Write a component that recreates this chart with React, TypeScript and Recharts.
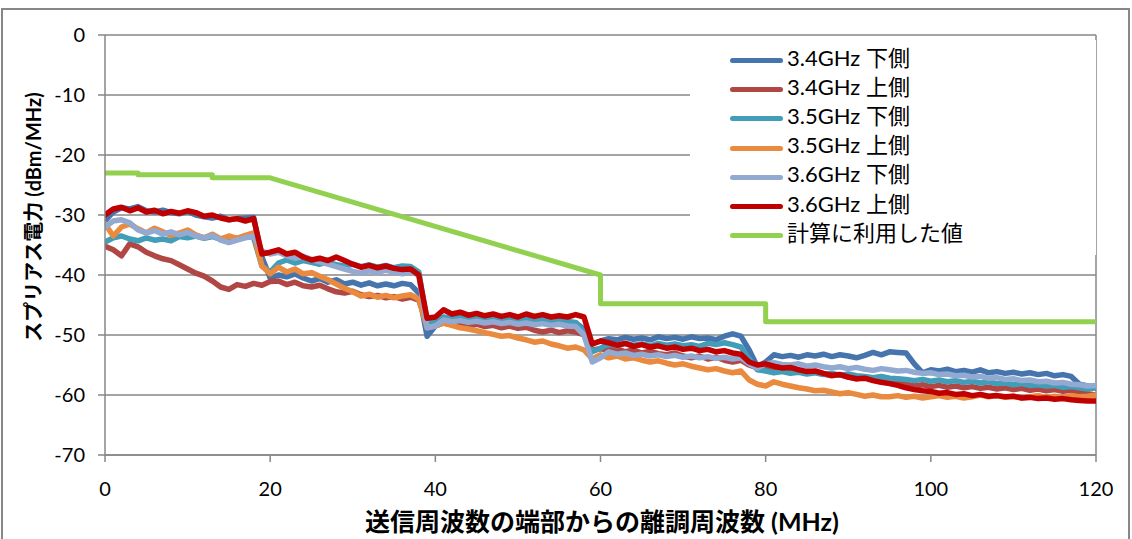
import { LineChart, Line, XAxis, YAxis, CartesianGrid, Legend, ReferenceLine } from "recharts"

const freq = [
  0, 1, 2, 3, 4, 5, 6, 7, 8, 9, 10, 11, 12, 13, 14, 15, 16, 17, 18, 19,
  20, 21, 22, 23, 24, 25, 26, 27, 28, 29, 30, 31, 32, 33, 34, 35, 36, 37, 38, 39,
  40, 41, 42, 43, 44, 45, 46, 47, 48, 49, 50, 51, 52, 53, 54, 55, 56, 57, 58, 59,
  60, 61, 62, 63, 64, 65, 66, 67, 68, 69, 70, 71, 72, 73, 74, 75, 76, 77, 78, 79,
  80, 81, 82, 83, 84, 85, 86, 87, 88, 89, 90, 91, 92, 93, 94, 95, 96, 97, 98, 99,
  100, 101, 102, 103, 104, 105, 106, 107, 108, 109, 110, 111, 112, 113, 114, 115, 116, 117, 118, 119,
  120,
]

// 3.4GHz 下側
const lower34 = [
  -31, -29.5, -28.8, -29, -28.6, -29.3, -29.5, -29.2, -29.6, -29.8, -29.4, -30, -30.3, -30.5, -30.2, -30.8, -30.6, -30.5, -30.4, -37,
  -40.5, -40, -40.3, -39.8, -40.5, -41, -40.6, -41.2, -40.8, -41.5, -41.2, -41.7, -41.3, -41.8, -41.5, -41.8, -41.4, -41.6, -43, -50.2,
  -48.5, -47.3, -47.5, -47, -47.4, -47.1, -47.5, -47.2, -47, -47.4, -47.1, -47.5, -47.3, -47.6, -47.3, -47.6, -47.8, -48, -49, -51.5,
  -51, -50.6, -50.8, -50.4, -50.7, -50.5, -50.8, -50.3, -50.6, -50.4, -50.7, -50.3, -50.6, -50.5, -50.8, -50.2, -49.8, -50.2, -52.5, -55.3,
  -54.5, -53.3, -53.6, -53.4, -53.7, -53.3, -53.5, -53.2, -53.6, -53.3, -53.5, -53.8, -53.4, -52.9, -53.3, -52.8, -52.9, -53, -54.8, -56.3,
  -55.8, -56, -55.7, -56.1, -55.9, -56.2, -55.8, -56.3, -56.1, -56.4, -56.2, -56.5, -56.3, -56.6, -56.4, -56.8, -56.6, -56.9, -58.2, -58.5,
  -58.8,
]

// 3.4GHz 上側
const upper34 = [
  -35.2, -35.8, -36.8, -34.8, -35.3, -36.2, -36.8, -37.3, -37.6, -38.3, -39, -39.7, -40.2, -41, -42, -42.4, -41.6, -41.9, -41.4, -41.7,
  -41.1, -41, -41.6, -41.2, -41.8, -42, -41.7, -42.3, -42.8, -43, -42.7, -43.3, -43.6, -43.4, -43.8, -43.6, -44, -43.7, -44.2, -48,
  -48.5, -48, -48.3, -48.1, -48.5, -48.2, -48.6, -48.4, -48.8, -48.5, -48.9, -48.7, -49.2, -49.5, -49.2, -49.6, -49.3, -49.5, -50, -52.5,
  -52.3, -52.5, -52.3, -52.8, -52.5, -53, -52.7, -53.1, -53.3, -53, -53.5, -53.8, -53.5, -54, -53.7, -54.2, -54.5, -54.2, -55, -55.5,
  -55.2, -55.5, -55.8, -55.6, -56, -56.3, -56.1, -56.5, -56.8, -56.6, -57, -57.3, -57.1, -57.5, -57.8, -57.6, -58, -58.2, -58.5, -58.3,
  -58.6, -58.4, -58.7, -58.5, -58.8, -58.6, -58.9, -58.7, -59, -58.8, -59.1, -58.9, -59.2, -59, -59.3, -59.1, -59.4, -59.2, -59.5, -59.8,
  -60,
]

// 3.5GHz 下側
const lower35 = [
  -34.5, -33.8, -33.5, -34, -34.3, -33.8, -34.2, -34, -34.3, -33.6, -33.8, -33.5, -33.9, -33.6, -34, -33.7, -33.9, -33.5, -33.8, -38.5,
  -39.5, -38, -37.5, -38, -37.6, -37.9, -38.2, -37.8, -38.3, -38.5, -38.2, -38.6, -38.3, -38.7, -38.4, -38.8, -38.5, -38.6, -39.5, -48,
  -47.8, -47, -47.3, -47.1, -47.4, -47.2, -47.5, -47.2, -47.4, -47.1, -47.5, -47.3, -47.6, -47.4, -47.7, -47.5, -47.8, -47.9, -49.5, -52.8,
  -52.2, -51.5, -51.8, -51.4, -51.7, -51.5, -51.8, -51.4, -51.7, -51.5, -51.8, -51.6, -51.9, -51.4, -51.6, -51.3, -51.6, -52, -54, -55.8,
  -56, -56.3, -56.1, -56.4, -56.2, -56.5, -56.3, -56.6, -56.4, -56.7, -56.5, -56.8, -56.9, -57.1, -56.9, -57.2, -57.3, -57.4, -57.6, -57.4,
  -57.7, -57.5, -57.8, -57.6, -57.9, -57.7, -58, -57.8, -58.1, -58, -58.3, -58.1, -58.4, -58.3, -58.5, -58.4, -58.7, -58.6, -58.8, -59,
  -58.8,
]

// 3.5GHz 上側
const upper35 = [
  -31.5, -33.5, -32, -31.5, -32.3, -33, -32.2, -32.8, -33.4, -33, -32.5, -33.3, -33.8, -33.2, -34, -33.5, -33.9, -33.4, -33, -38.5,
  -39.8, -38.7, -39.5, -39, -39.8, -39.6, -40.2, -40.8, -41.5, -42.2, -42.8, -43.5, -43.2, -43.7, -43.4, -43.8, -43.5, -43.3, -44, -48.8,
  -48.5, -48, -48.4, -48.8, -49, -49.3, -49.6, -49.9, -50.2, -50.1, -50.5, -50.8, -51.2, -51, -51.5, -51.8, -52.2, -52, -52.5, -54,
  -53.3, -53.8, -53.5, -54, -53.8, -54.2, -54.5, -54.3, -54.7, -55, -54.8, -55.2, -55.5, -55.8, -55.6, -56, -56.3, -56, -57.5, -58.2,
  -58.5, -57.8, -58.2, -58.5, -58.8, -59, -59.3, -59.2, -59.5, -59.8, -59.6, -59.9, -60.2, -60, -60.3, -60.3, -60.1, -60.4, -60.2, -60.5,
  -60.3, -60.1, -60.4, -60.2, -60.5, -60.3, -60, -60.3, -60.1, -60.4, -60.2, -60.5, -60.3, -60.1, -60.4, -60.2, -60.4, -60.1, -60.3, -60.2,
  -60,
]

// 3.6GHz 下側
const lower36 = [
  -32, -31, -30.8, -31.3, -32.5, -33, -32.6, -33.2, -32.8, -33.3, -32.9, -33.5, -33.8, -33.4, -34.2, -34.6, -34.2, -33.8, -33.5, -36,
  -36.5, -36.2, -36.8, -37.2, -36.9, -37.4, -37.8, -38.2, -38.6, -39, -39.4, -39.7, -39.3, -39.6, -39.2, -39.5, -39.8, -39.5, -40, -48.8,
  -48.5, -47.5, -47.8, -47.6, -47.9, -47.7, -48, -47.8, -48.1, -47.9, -48.2, -48, -48.3, -48.1, -48.4, -48.2, -48.5, -48.6, -50, -54.5,
  -53.8, -52.8, -53.2, -53, -53.4, -53.2, -53.5, -53.3, -53.6, -53.4, -53.7, -53.5, -53.8, -53.6, -53.9, -53.7, -54, -53.8, -54.8, -55.5,
  -54.8, -54.6, -54.9, -55, -54.8, -55.2, -55, -55.3, -55.5, -55.3, -55.6, -55.4, -55.7, -55.9, -55.6, -55.8, -56, -55.9, -56.2, -56.4,
  -56.3, -56.6, -56.5, -56.8, -56.7, -57, -56.9, -57.2, -57.1, -57.4, -57.3, -57.6, -57.5, -57.8, -57.7, -58, -57.9, -58.2, -58.3, -58.5,
  -58.4,
]

// 3.6GHz 上側
const upper36 = [
  -30, -29, -28.7, -29.3, -28.8, -29.5, -29.2, -29.8, -29.4, -29.7, -29.3, -29.6, -30.2, -30, -30.5, -30.8, -30.6, -31, -30.6, -36.5,
  -36.2, -35.8, -36.5, -36.2, -37, -37.5, -37.2, -37.6, -37, -37.6, -38.2, -38.7, -38.4, -38.8, -38.5, -38.9, -39.1, -39, -40, -47.2,
  -47, -45.8, -46.5, -46.2, -46.7, -46.4, -46.8, -46.5, -46.9, -46.6, -47, -46.5, -46.9, -46.6, -47, -46.8, -47, -46.6, -47, -51.5,
  -51, -51.3, -51.7, -51.4, -51.9, -51.6, -52, -51.8, -52.2, -52, -52.4, -52.2, -52.6, -52.4, -52.8, -52.6, -53, -53.2, -54.5, -55,
  -54.8, -55.2, -55.5, -55.4, -55.8, -56.1, -56, -56.4, -56.7, -56.6, -57, -57.3, -57.2, -57.6, -57.9, -58.1, -58.4, -58.8, -59.1, -59.3,
  -59.4, -59.7, -59.6, -59.9, -59.8, -60.1, -59.9, -60.2, -60.1, -60.3, -60.2, -60.5, -60.4, -60.6, -60.5, -60.7, -60.6, -60.8, -60.9, -61,
  -61,
]

// 計算に利用した値
const calcFreq = [0, 4, 4, 13, 13, 20, 60, 60, 80, 80, 120]
const calcValue = [-23, -23, -23.3, -23.3, -23.8, -23.8, -40, -44.8, -44.8, -47.8, -47.8]

const seriesNames = [
  "3.4GHz 下側",
  "3.4GHz 上側",
  "3.5GHz 下側",
  "3.5GHz 上側",
  "3.6GHz 下側",
  "3.6GHz 上側",
  "計算に利用した値",
]
const colors = ["#4674AD", "#B04744", "#419DB8", "#EA8A3E", "#92AAD2", "#C00000", "#92D050"]

const xTicks = [0, 20, 40, 60, 80, 100, 120]
const yTicks = [-70, -60, -50, -40, -30, -20, -10, 0]

const FONT = "Lato, 'Noto Sans CJK JP', sans-serif"
const GRAY = "#878787"

const toPoints = (xs: number[], ys: number[]) => ys.map((y, i) => ({ x: xs[i], y }))

const measured = [lower34, upper34, lower35, upper35, lower36, upper36]

function LegendBox() {
  return (
    <div style={{ width: 406, height: 215, background: "#fff", paddingTop: 3, boxSizing: "border-box", fontFamily: FONT }}>
      {seriesNames.map((name, i) => (
        <div key={name} style={{ height: 29.2, display: "flex", alignItems: "center" }}>
          <div style={{ marginLeft: 40, marginTop: 6, width: 53, height: 5, borderRadius: 3, background: colors[i] }} />
          <span style={{ marginLeft: 4, fontSize: 22, lineHeight: 1, color: "#000", whiteSpace: "nowrap" }}>{name}</span>
        </div>
      ))}
    </div>
  )
}

export default function App() {
  return (
    <div style={{ position: "absolute", left: 0, top: 0, width: 1132, height: 539, background: "#fff", overflow: "hidden", fontFamily: FONT }}>
      <div
        style={{
          position: "absolute",
          left: 1,
          top: 8,
          width: 1129,
          height: 600,
          border: `2px solid ${GRAY}`,
          boxSizing: "border-box",
        }}
      />
      <LineChart width={1132} height={539} margin={{ top: 35, right: 36, bottom: 0, left: 0 }}>
        <CartesianGrid vertical={false} stroke={GRAY} strokeWidth={1.5} />
        <XAxis
          type="number"
          dataKey="x"
          domain={[0, 120]}
          ticks={xTicks}
          allowDataOverflow
          height={84}
          stroke={GRAY}
          strokeWidth={1.5}
          tickSize={7}
          tickMargin={20}
          tick={{ fill: "#000", fontSize: 20, fontFamily: FONT }}
          label={() => (
            <text x={602} y={521} textAnchor="middle" dominantBaseline="central" fontSize={25} fontWeight="bold" fontFamily={FONT} fill="#000">
              送信周波数の端部からの離調周波数 (MHz)
            </text>
          )}
        />
        <YAxis
          type="number"
          domain={[-70, 0]}
          ticks={yTicks}
          allowDataOverflow
          width={105}
          stroke={GRAY}
          strokeWidth={1.5}
          tickSize={7}
          tickMargin={13}
          tick={{ fill: "#000", fontSize: 20, fontFamily: FONT }}
          label={() => (
            <text
              x={33}
              y={217}
              transform="rotate(-90 33 217)"
              textAnchor="middle"
              dominantBaseline="central"
              fontSize={20}
              fontWeight="bold"
              fontFamily={FONT}
              fill="#000"
            >
              スプリアス電力 (dBm/MHz)
            </text>
          )}
        />
        <ReferenceLine x={120} stroke={GRAY} strokeWidth={1.5} />
        {measured.map((ys, i) => (
          <Line
            key={seriesNames[i]}
            name={seriesNames[i]}
            data={toPoints(freq, ys)}
            dataKey="y"
            type="linear"
            stroke={colors[i]}
            strokeWidth={5.5}
            strokeLinejoin="round"
            strokeLinecap="round"
            dot={false}
            activeDot={false}
            isAnimationActive={false}
          />
        ))}
        <Line
          name={seriesNames[6]}
          data={toPoints(calcFreq, calcValue)}
          dataKey="y"
          type="linear"
          stroke={colors[6]}
          strokeWidth={5}
          strokeLinejoin="round"
          strokeLinecap="round"
          dot={false}
          activeDot={false}
          isAnimationActive={false}
        />
        <Legend
          layout="vertical"
          align="center"
          verticalAlign="middle"
          content={() => <LegendBox />}
          wrapperStyle={{ position: "absolute", left: 690, top: 40, width: 406, height: 215 }}
        />
      </LineChart>
    </div>
  )
}
